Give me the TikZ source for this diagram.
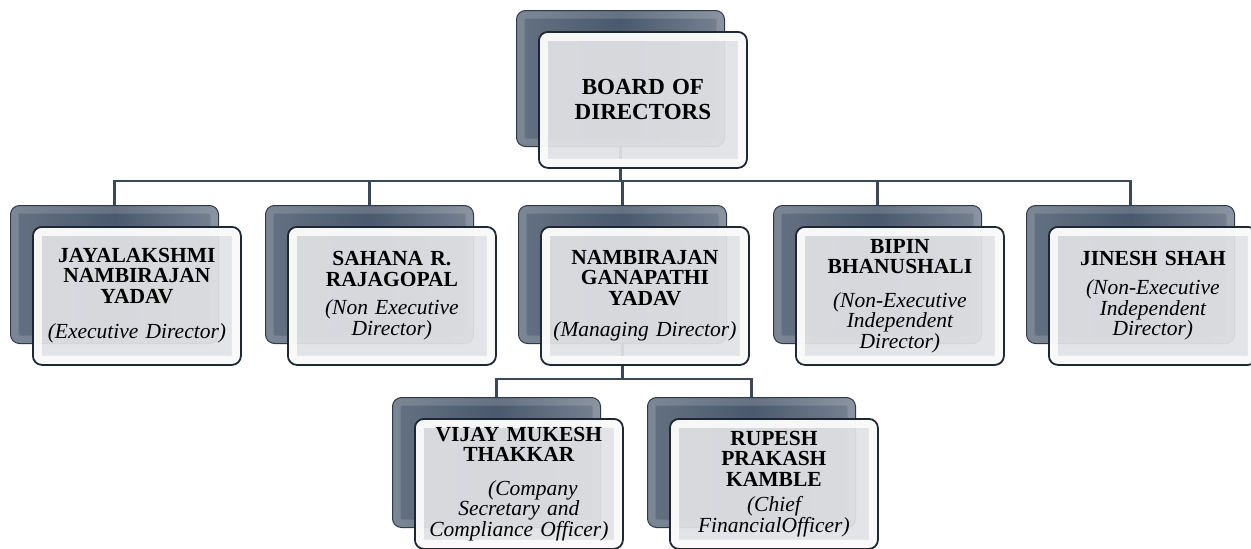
\documentclass[tikz,border=0pt]{standalone}
\usepackage{fontspec}
\setmainfont{Liberation Serif}
\usetikzlibrary{calc,backgrounds}

\definecolor{slate}{HTML}{4A596D}
\definecolor{slateedge}{HTML}{2F3A49}
\definecolor{paper}{HTML}{E1E2E5}
\definecolor{frame}{HTML}{1E2734}
\definecolor{wirecol}{HTML}{3B4859}

\tikzset{
    backbox/.style={draw=slateedge, line width=1pt, rounded corners=9pt,
        left color=slate!85!white, right color=slate!75!white, middle color=slate,
        minimum width=208, inner sep=0pt,
        path picture={\draw[white, opacity=0.15, line width=16pt]
            (path picture bounding box.south west) rectangle (path picture bounding box.north east);}},
    frontbox/.style={draw=frame, line width=1.8pt, fill=paper, rounded corners=9pt,
        fill opacity=0.93, text opacity=1, minimum width=208, inner sep=2pt,
        text width=200, align=center, font=\fontsize{21.5}{20.5}\selectfont,
        path picture={\draw[white, opacity=0.8, line width=18pt]
            (path picture bounding box.south west) rectangle (path picture bounding box.north east);}},
    wire/.style={draw=wirecol, line width=2.6pt}
}

\newcommand{\orgbox}[5]{% name, x, y, height, text
    \node[backbox, minimum height=#4, anchor=north west] (#1-back) at (#2,#3) {};
    \node[frontbox, minimum height=#4, anchor=north west] (#1) at ($(#1-back.north west)+(22,21)$) {#5};
}

\begin{document}
\begin{tikzpicture}[x=1pt, y=-1pt]
        \useasboundingbox (0,0) rectangle (1251,549);

        % Board
        \orgbox{board}{516}{10}{136}{\fontsize{23}{25}\selectfont\textbf{BOARD OF\\DIRECTORS}\par}

        % Directors
        \orgbox{jay}{10}{205}{138}{\textbf{JAYALAKSHMI\\NAMBIRAJAN\\YADAV}\\[15pt]\textit{(Executive Director)}}
        \orgbox{sah}{265}{205}{138}{\textbf{SAHANA R.\\RAJAGOPAL}\\[8pt]\textit{(Non Executive\\Director)}}
        \orgbox{nam}{518}{205}{138}{\textbf{NAMBIRAJAN\\GANAPATHI\\YADAV}\\[11pt]\textit{(Managing Director)}}
        \orgbox{bip}{773}{205}{138}{\textbf{BIPIN\\BHANUSHALI}\\[13pt]\textit{(Non-Executive\\Independent\\Director)}}
        \orgbox{jin}{1026}{205}{138}{\textbf{JINESH SHAH}\\[9pt]\textit{(Non-Executive\\Independent\\Director)}}

        % Officers
        \orgbox{vij}{392}{397}{130}{\textbf{VIJAY MUKESH\\THAKKAR}\\[13pt]\textit{\hspace*{1.3em}(Company\\Secretary and\\Compliance Officer)}}
        \orgbox{rup}{647}{397}{130}{\textbf{RUPESH\\PRAKASH\\KAMBLE}\\[5pt]\textit{(Chief\\FinancialOfficer)}}

        % Connectors
        \begin{pgfonlayer}{background}
            \coordinate (bus) at ($(board-back.south)+(0,34)$);
            \draw[wire] (board-back.south) -- (bus);
            \foreach \n in {jay,sah,nam,bip,jin}
                \draw[wire] (bus) -| (\n-back.north);
            \coordinate (bus2) at ($(nam-back.south)+(0,35)$);
            \draw[wire] (nam-back.south) -- (bus2);
            \foreach \n in {vij,rup}
                \draw[wire] (bus2) -| (\n-back.north);
        \end{pgfonlayer}
\end{tikzpicture}
\end{document}
